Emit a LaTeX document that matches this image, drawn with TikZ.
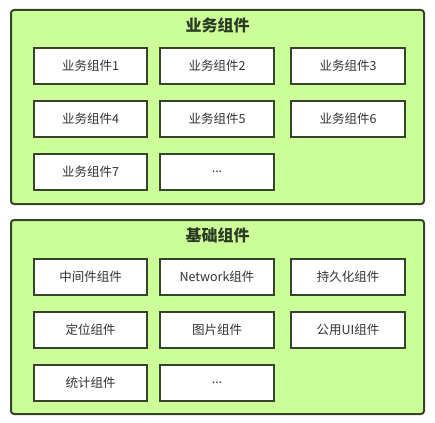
\documentclass[tikz,border=0pt]{standalone}
\usepackage{fontspec}
\setmainfont{Noto Sans CJK SC}
\definecolor{panelfill}{HTML}{CCFF99}
\definecolor{edge}{HTML}{35442B}
\definecolor{txt}{HTML}{333333}
\definecolor{ttl}{HTML}{2B3A22}
\tikzset{
  panel/.style={draw=edge, line width=2pt, fill=panelfill, rounded corners=3pt},
  item/.style={draw=edge, line width=2pt, fill=white, text=txt, font=\fontsize{12.5}{14}\selectfont},
  ttlstyle/.style={text=ttl, font=\fontsize{16}{18}\selectfont\bfseries}
}
\begin{document}
\begin{tikzpicture}[x=1pt,y=-1pt]
\useasboundingbox (0,0) rectangle (435,422);
% panels
\draw[panel] (11,10) rectangle (424,204);
\draw[panel] (11,220) rectangle (424,414);
\node[ttlstyle] (t1) at (217.5,25) {业务组件};
\node[ttlstyle] (t2) at (217.5,235) {基础组件};
% items helper
\newcommand{\itembox}[6]{\draw[item] (#2,#3) rectangle (#4,#5) node[midway] (#1) {#6};}
\itembox{b1}{34}{48}{147}{84}{业务组件1}
\itembox{b2}{160}{48}{274}{84}{业务组件2}
\itembox{b3}{291}{48}{405}{84}{业务组件3}
\itembox{b4}{34}{101}{147}{137}{业务组件4}
\itembox{b5}{160}{101}{274}{137}{业务组件5}
\itembox{b6}{291}{101}{405}{137}{业务组件6}
\itembox{b7}{34}{154}{147}{190}{业务组件7}
\itembox{b8}{160}{154}{274}{190}{...}
\itembox{c1}{34}{259}{147}{295}{中间件组件}
\itembox{c2}{160}{259}{274}{295}{Network组件}
\itembox{c3}{291}{259}{405}{295}{持久化组件}
\itembox{c4}{34}{312}{147}{348}{定位组件}
\itembox{c5}{160}{312}{274}{348}{图片组件}
\itembox{c6}{291}{312}{405}{348}{公用UI组件}
\itembox{c7}{34}{365}{147}{401}{统计组件}
\itembox{c8}{160}{365}{274}{401}{...}
\end{tikzpicture}
\end{document}
